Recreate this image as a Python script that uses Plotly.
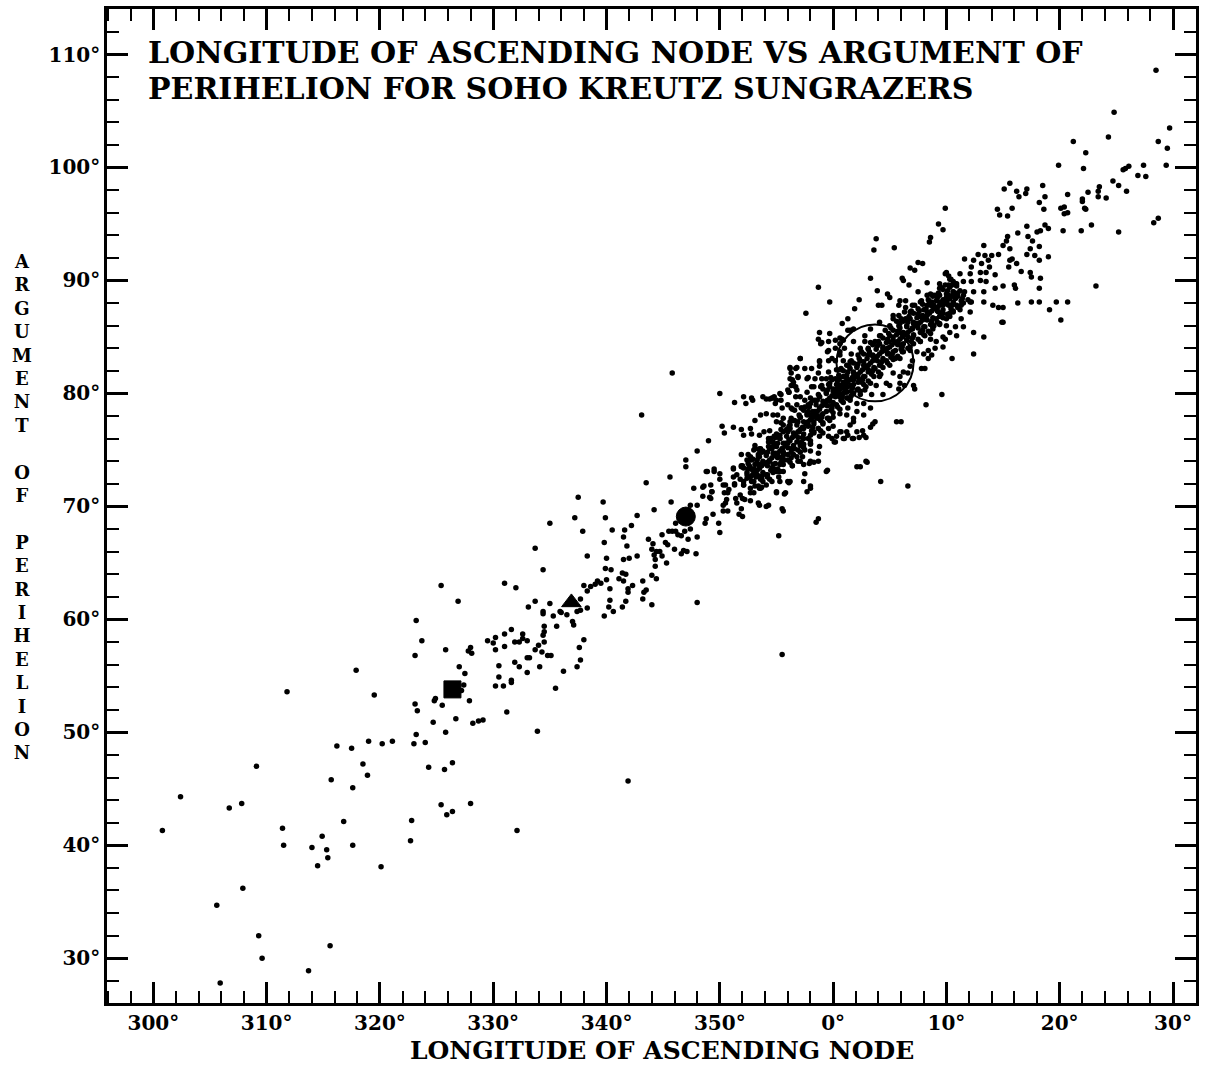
import plotly.graph_objects as go

FONT = "DejaVu Serif"

# (longitude of ascending node [deg], argument of perihelion [deg])
LOWER = [(317.9,55.5),(311.8,53.6),(316.2,48.8),(317.5,48.6),(318.5,47.2),(318.9,46.2),(309.1,47.0),(315.7,45.8),
         (317.6,45.1),(302.4,44.3),(306.7,43.3),(307.8,43.7),(300.8,41.3),(311.4,41.5),(316.8,42.1),(311.5,40.0),
         (314.0,39.8),(314.9,40.8),(315.3,39.6),(315.4,38.9),(314.5,38.2),(317.6,40.0),(307.9,36.2),(305.6,34.7),
         (309.3,32.0),(309.6,30.0),(315.6,31.1),(313.7,28.9),(305.9,27.8),(320.1,38.1),(322.8,42.2),(322.7,40.4),
         (325.4,43.6),(325.9,42.7),(326.4,43.0),(328.0,43.7),(332.1,41.3),(341.9,45.7)]

MID_A = [(337.5,70.8),(337.2,69.0),(337.9,67.8),(335.0,68.5),(338.3,65.6),(333.7,66.3),(334.4,64.4),(331.0,63.2),
         (332.0,62.8),(325.4,63.0),(326.9,61.6),(323.2,59.9),(323.7,58.1),(323.1,56.8),(325.8,57.3),(319.5,53.3),
         (327.0,55.8),(327.5,55.2),(327.8,57.2),(328.0,57.5),(328.1,57.0),(327.4,54.2),(327.2,53.7),(324.9,53.0),
         (324.8,52.8),(325.5,52.4),(327.9,52.8),(323.1,52.5),(323.3,51.9),(324.7,50.9),(326.7,51.2),(328.2,50.8),
         (328.7,51.0),(329.1,51.1),(331.2,51.8),(333.9,50.1),(325.8,50.0),(323.2,49.8),(323.0,49.0),(324.0,49.1),
         (319.0,49.2),(320.2,49.0),(321.1,49.2),(324.3,46.9),(325.7,46.7),(326.4,47.3),
         (329.5,58.1),(330.0,57.9),(330.2,58.4),(331.0,58.7),(331.6,59.1),(331.0,57.6),(330.2,57.3),(331.9,58.0),
         (332.3,58.0),(332.6,58.7),(332.6,58.3),(333.0,58.1),(333.7,57.3),(334.0,57.7),(334.3,57.1),(334.5,58.0),
         (334.4,58.6),(334.5,58.9),(334.5,59.4),(334.8,56.8),(335.1,56.8),(333.0,56.6),(333.2,56.6),(331.9,56.2),
         (332.3,55.8),(333.0,55.3),(334.1,55.8),(330.5,55.9),(330.5,54.9),(330.2,54.1),(330.9,54.1),(331.6,54.4),
         (331.6,54.6),(335.5,53.9),(336.2,55.4),(337.4,55.8),(337.7,56.4),(337.6,57.5),(338.0,58.2),(338.3,61.0),
         (338.0,63.0),(338.3,62.5),(335.0,61.4),(333.7,61.6),(333.1,61.1),(334.4,60.7),(334.4,60.5),(335.3,60.3),
         (335.6,59.4),(335.9,60.7),(337.1,59.5),(337.0,59.8),(337.7,61.8),(337.7,60.8),(336.0,60.6),(336.5,60.4),
         (337.4,60.7)]

MID_B = [(345.8,81.8),(343.1,78.1),(350.0,80.0),(351.3,79.2),(352.1,79.7),(352.3,79.1),(352.8,79.6),(352.9,79.4),
         (353.8,79.7),(354.4,79.5),(354.7,79.6),(355.0,79.4),(355.4,79.9),(355.4,79.4),(350.2,77.1),(350.4,76.5),
         (351.2,77.0),(351.9,76.8),(352.8,76.4),(353.1,77.6),(353.6,78.1),(355.1,78.1),(349.0,75.8),(348.0,74.9),
         (347.0,74.1),(347.0,73.5),(345.6,72.6),(343.5,72.1),(339.7,70.4),(339.9,69.0),(340.5,67.9),(339.8,66.8),
         (341.5,67.3),(341.6,67.9),(342.2,68.3),(342.7,69.2),(341.8,66.5),(340.0,65.4),(341.5,65.3),(342.0,65.4),
         (342.7,65.6),(339.9,64.5),(340.4,64.4),(341.4,64.1),(341.7,64.0),(341.1,63.6),(341.5,63.4),(340.0,63.5),
         (339.2,63.4),(339.5,63.2),(339.0,63.1),(338.6,62.9),(340.3,62.7),(341.9,62.7),(341.9,62.4),(342.3,63.0),
         (343.2,63.4),(343.3,62.4),(343.5,62.6),(343.2,61.8),(344.0,61.3),(340.3,61.7),(340.2,61.1),(341.7,61.6),
         (341.4,61.1),(340.6,60.7),(339.8,60.3),(348.0,61.5),(355.5,56.9),
         (343.7,67.1),(344.1,66.7),(344.0,66.2),(344.2,65.7),(344.4,66.0),(344.7,66.0),(344.3,65.3),(344.3,64.7),
         (344.4,63.6),(344.0,63.9),(344.9,67.5),(345.2,66.8),(345.4,66.6),(344.9,65.6),(345.3,65.0),(346.0,66.2),
         (345.5,67.8),(345.8,67.8),(346.1,67.8),(346.3,67.5),(346.6,67.4),(346.9,67.8),(347.2,67.1),(346.8,66.1),
         (346.6,65.8),(347.1,66.0),(347.9,65.8),(348.0,67.3),(347.4,68.0),(345.7,70.4),(344.2,69.7),(346.1,68.5),
         (347.4,70.1),(348.0,70.1),(348.8,68.9),(348.7,68.5),(349.4,69.3),(349.9,68.5),(350.0,67.7),(347.7,71.6),
         (348.5,71.7),(348.5,70.9),(349.1,70.8),(349.2,71.9),(349.3,71.3),(348.8,73.1),(349.5,73.3),(350.0,72.9),
         (350.3,70.1),(350.5,70.3),(350.3,69.6),(350.7,69.6),(350.5,71.9),(350.4,71.2),(350.7,71.2),(351.3,72.0),
         (351.2,73.3),(351.5,72.8),(351.7,69.3),(351.4,70.7),(352.0,70.7),(352.0,69.1),(351.9,69.8),(352.0,73.6),
         (352.1,72.2),(352.6,72.6),(352.7,71.6),(353.0,71.2),(352.7,70.5),(353.5,70.1),(354.1,70.0),(355.6,69.6),
         (355.7,71.1),(355.0,71.2),(355.2,67.4),(353.3,72.7),(353.7,71.7),(352.8,74.1),(353.0,73.3),(353.5,73.4),
         (353.9,73.8),(354.2,72.8),(354.8,73.3),(355.2,72.6),(355.3,73.1),(356.1,72.1),(356.4,73.6),(353.1,75.1),
         (353.5,75.0),(354.3,75.7),(354.7,75.3),(354.9,74.7),(355.5,75.0),(355.7,74.1),(356.3,74.3),(353.9,76.6),
         (354.5,76.0),(354.9,76.1),(355.3,76.3),(356.1,76.8),(356.2,77.5),(356.4,78.6),(356.5,81.0),(356.2,82.3),
         (356.8,82.3),(357.1,83.1),(356.1,80.1),(356.3,81.8),(356.7,80.6)]

CORE_LOW = [(354.1,79.5),(354.6,79.6),(354.8,79.7),(356.1,80.1),(356.3,80.7),(356.4,81.2),(356.9,81.4),(357.8,81.4),
            (358.7,81.8),(359.0,81.3),(356.7,79.7),(356.8,79.0),(357.2,78.7),(356.3,78.7),(355.4,77.4),(355.6,77.2),
            (354.4,76.7),(354.3,76.0),(354.5,75.7),(354.8,76.2),(355.0,76.4),(355.3,76.0),(354.9,75.5),(354.6,75.1),
            (354.1,74.7),(353.7,74.8),(353.1,75.4),(353.0,75.0),(353.5,75.1),(355.5,75.1),(355.8,75.6),(356.1,75.9),
            (356.6,76.3),(357.0,76.6),(357.4,76.9),(357.8,77.2),(358.3,77.5),(358.6,77.8),(359.0,78.1),(359.4,78.4),
            (359.9,78.7),(0.3,79.0),(0.8,79.3),(1.2,79.6),(1.6,79.8),(2.1,80.3),(2.2,81.0),(1.2,81.3),(0.6,80.7),
            (0.0,80.4),(359.4,80.1),(358.8,79.7),(358.4,79.4),(358.0,79.1),(357.5,78.8),(357.7,78.2),(357.1,77.9),
            (356.6,77.6),(356.2,77.2),(355.9,76.8),(358.0,78.1),(358.4,78.4),(358.8,78.7),(359.3,79.0),(359.7,79.3),
            (0.2,79.7),(0.6,80.0),(1.0,80.4),(1.6,80.7),(1.9,81.5),(1.2,78.1),(0.6,78.2),(0.0,77.9),(359.6,77.8),
            (359.1,77.3),(359.6,76.9),(0.0,77.1),(358.7,76.9),(358.3,76.6),(0.6,76.6),(0.2,75.7),(0.9,76.0),(1.8,76.0),
            (2.1,76.6),(1.5,77.2),(1.8,77.8),(2.1,78.4),(1.3,78.7),(2.1,79.1),(358.0,76.3),(357.4,76.0),(356.8,75.7),
            (358.0,75.6),(358.7,74.7),(358.0,74.0),(358.3,73.9),(357.5,72.9),(359.4,73.1),(358.0,71.8),(357.7,71.3),
            (356.3,75.1),(356.0,74.6),(355.6,74.8),(355.2,74.4),(355.6,74.1),(355.3,73.7),(354.9,73.8),(354.4,74.0),
            (354.0,73.8),(353.5,73.5),(353.1,73.7),(352.7,73.4),(354.6,73.2),(355.0,73.1),(354.1,72.8),(353.7,72.5),
            (353.2,72.6),(352.8,72.2),(352.4,72.5),(352.1,71.9),(351.8,72.4),(351.2,72.6),(351.3,71.9),(353.1,71.8),
            (353.5,71.6),(354.1,71.9),(354.6,72.2),(355.3,72.2),(356.0,72.2),(357.4,73.7),(357.1,74.0),(356.8,74.4),
            (355.6,73.1),(355.0,71.3),(355.8,71.2),(352.7,71.2),(351.8,71.0),(350.8,71.5),(350.3,71.9),(350.6,70.6),
            (351.5,70.3),(352.2,70.6),(353.4,70.3),(354.3,70.1),(355.5,69.8),(349.2,70.7),(349.5,73.1),(348.9,73.1),
            (348.6,71.8),(349.3,71.3),(350.0,72.4),(351.2,73.4),(351.9,73.5),(352.4,74.1),(353.4,74.4),(357.5,75.0),
            (358.8,75.3),(359.6,76.2),(358.8,76.2),(357.1,75.4),(359.9,76.0),(1.2,76.6),(0.3,76.2),(2.1,73.5),
            (358.5,68.6),(358.7,68.9),(2.4,73.5),(3.0,73.9),(357.9,73.8),(357.3,74.4),(356.4,73.6),(356.2,72.2),
            (357.4,75.2),(356.6,75.1),(358.0,75.5),(0.1,75.7),(1.0,76.0),(1.7,76.0),(2.3,76.1),(2.6,76.7),(2.9,76.1),
            (2.7,76.3),(3.3,77.0),(3.5,77.3),(0.7,76.6),(1.3,76.3),(359.1,76.5),(5.6,77.5),(6.0,77.5),(4.2,72.2),
            (6.6,71.8)]

CORE_MID = [(3.8,93.7),(3.6,92.7),(5.4,92.9),(8.6,93.8),(8.5,93.4),(357.1,83.1),(358.8,82.9),(356.2,82.2),
            (356.7,82.2),(357.5,82.2),(359.6,84.6),(0.6,84.9),(1.3,85.6),(358.9,84.4),(359.5,83.7),(356.2,81.3),
            (356.9,81.5),(356.5,80.7),(356.0,80.3),(355.3,80.0),(354.9,79.1),(355.5,78.7),(356.0,79.0),(357.5,79.4),
            (8.2,79.0),(2.9,74.0),(354.1,78.2),(354.7,78.1),(355.0,77.5),(355.6,77.8),(356.6,78.5),(357.1,79.7),
            (357.7,80.1),(358.1,80.6),(356.8,80.3),(358.8,82.4),(358.1,82.2),(359.6,82.9),(0.6,83.4),(359.4,81.3),
            (0.2,81.3),(0.6,82.1),(1.6,83.5),(358.8,85.4),(0.9,84.7),(352.1,76.3),(352.7,76.9),(353.5,76.3),
            (351.9,74.6),(352.5,74.6),(352.4,72.8),(353.0,72.8),(353.5,73.7),(352.1,71.9),(355.6,74.8),(356.9,74.0),
            (358.0,74.9),(358.7,74.0),(359.5,73.2),(357.4,72.2),(358.0,71.6),(1.8,77.5),(2.7,78.1),(3.3,78.7),
            (3.7,77.5),(2.7,79.1),(5.0,80.7),(5.8,80.4),(6.3,80.7),(5.9,81.5),(6.6,81.8),(8.1,82.2),(8.0,83.5),
            (8.7,83.4)]

CORE_HIGH = [(358.7,89.4),(3.3,90.2),(357.6,87.1),(7.5,91.6),(7.9,91.5),(6.8,91.1),(7.2,90.9),(6.1,90.2),(6.2,90.0),
             (4.8,88.8),(5.0,88.5),(3.9,89.1),(2.3,88.3),(1.9,87.5),(4.0,87.8),(4.3,87.8),(1.3,86.6),(4.1,86.3),
             (5.9,88.2),(5.8,87.8),(6.7,89.6),(7.0,87.8),(8.3,89.8),(8.3,88.7),(8.9,88.7),(9.9,90.6),(10.2,90.4),
             (9.4,89.3),(5.8,86.9),(5.3,86.6),(6.3,87.2),(358.7,84.8),(359.7,85.3),(0.2,84.7),(0.8,84.8),(359.0,84.5),
             (359.6,83.8),(357.7,81.3),(358.8,82.8),(0.2,82.9),(0.9,82.9),(1.5,82.8),(1.8,84.6),(1.5,85.6),(2.8,85.1),
             (3.3,85.7),(2.4,84.0),(3.1,84.0),(3.5,83.4),(2.7,82.8),(2.1,82.4),(3.1,81.9),(3.7,82.2),(4.1,82.5),
             (4.7,82.9),(4.8,83.5),(4.4,84.1),(4.9,84.6),(5.3,85.0),(5.9,85.4),(6.5,85.9),(7.1,86.3),(7.7,86.8),
             (8.3,87.2),(8.9,87.6),(9.4,88.1),(10.0,88.5),(10.6,89.0),(10.9,89.7),(10.5,89.6),(10.2,87.8),(9.7,87.1),
             (9.1,86.6),(8.7,86.2),(8.1,85.9),(7.7,85.4),(7.1,85.1),(6.5,84.7),(5.9,84.3),(5.5,83.8),(5.2,83.4),
             (5.5,83.1),(6.1,83.7),(6.8,84.1),(7.7,84.6),(8.6,84.8),(9.1,84.6),(8.4,83.8),(7.4,83.7),(7.8,82.2),
             (10.5,83.1),(9.6,79.9),(7.1,80.7),(7.2,80.4),(5.9,80.9),(4.7,80.9),(4.4,79.9),(3.4,79.9),(3.8,80.7),
             (2.9,80.6),(2.5,81.2),(2.8,81.5),(4.1,81.5),(5.3,81.8),(6.2,81.9),(6.8,82.4),(7.0,82.9),(1.8,81.2),
             (0.9,81.5),(0.3,82.1),(359.6,81.9),(359.0,80.7),(358.3,80.6),(358.4,81.3),(359.7,80.9),(0.3,80.4),
             (1.2,80.1),(0.6,79.7),(1.5,79.6),(2.4,79.9),(2.8,80.3),(359.7,88.1),(0.8,86.2),(0.2,84.0),(359.9,83.1),
             (1.0,84.0),(0.6,83.7),(1.2,82.5),(2.2,83.4),(1.8,81.9),(4.1,85.1),(4.6,85.6),(5.0,86.0),(3.7,84.6),
             (2.8,84.6),(7.0,85.7),(7.4,86.2),(5.9,86.2),(6.4,86.6),(8.0,87.4),(8.7,88.1),(9.3,87.2),(8.1,85.1),
             (8.8,85.7),(9.4,86.2),(10.0,86.6),(10.6,87.2),(10.9,87.8),(10.8,88.4),(10.3,85.4),(9.7,85.0),(10.8,85.9),
             (9.0,84.0),(9.7,84.1),(8.4,83.1),(12.4,83.5),(7.5,89.0),(6.4,88.2),(7.8,88.2),(6.4,87.6),(7.2,87.8),
             (1.8,85.7),(0.6,84.4),(5.6,86.4),(5.3,86.9),(6.8,87.2),(8.6,87.8)]

UPPER = [(28.5,108.6),(24.8,104.9),(29.7,103.5),(24.3,102.7),(28.7,102.3),(29.5,101.7),(29.4,100.2),(21.2,102.3),
         (22.3,101.3),(22.1,99.9),(19.9,100.2),(25.8,99.9),(26.1,100.1),(25.6,99.8),(27.4,100.2),(26.9,99.3),
         (27.6,99.2),(24.7,98.8),(25.2,98.4),(25.9,97.9),(24.1,97.3),(23.5,98.3),(23.4,97.9),(23.4,97.4),(22.5,97.8),
         (22.0,97.2),(22.0,97.0),(22.2,96.4),(22.3,96.3),(20.7,97.6),(20.1,96.4),(20.4,96.5),(20.4,95.9),(20.7,96.0),
         (22.8,94.9),(21.9,94.4),(20.3,94.4),(25.2,94.3),(28.3,95.1),(28.7,95.5),(18.5,98.4),(18.7,97.4),(18.2,96.9),
         (18.6,96.3),(17.1,98.1),(17.0,97.7),(16.2,97.9),(16.4,97.4),(15.6,98.6),(15.1,98.1),(14.5,96.3),(14.7,95.8),
         (15.4,95.7),(15.8,96.4),(9.9,96.4),(9.3,95.0),(9.7,94.5),(17.1,94.8),(16.3,94.2),(17.2,93.9),(18.0,94.3),
         (18.3,94.4),(18.7,94.9),(19.0,94.6),(17.6,93.5),(18.2,93.0),(17.4,92.8),(17.1,92.3),(17.8,92.2),(18.2,91.8),
         (19.0,92.1),(17.4,90.7),(17.5,90.3),(18.3,90.2),(18.2,89.3),(18.2,88.1),(17.5,88.1),(16.3,88.0),(19.7,88.1),
         (20.7,88.1),(19.1,87.4),(20.1,86.5),(23.2,89.5),(15.0,86.3),(14.6,87.6),(15.0,87.6),(15.0,89.5),(16.0,89.6),
         (16.1,89.3),(14.3,89.3),(16.6,90.8),(16.2,91.5),(15.8,91.9),(15.6,92.8),(15.4,93.9),(15.3,93.5),(15.0,93.1),
         (14.6,92.3),(14.0,92.2),(13.3,93.1),(13.4,92.2),(13.7,91.8),(12.8,92.3),(12.4,91.8),(11.6,91.9),(12.2,91.2),
         (13.1,91.5),(13.8,91.2),(15.5,91.2),(15.6,91.8),(14.3,90.5),(13.5,90.7),(13.0,90.7),(12.1,90.6),(11.2,90.6),
         (10.0,90.7),(10.3,90.1),(9.4,89.7),(9.9,89.6),(10.8,89.7),(11.5,89.9),(12.2,89.9),(13.0,90.0),(13.5,89.9),
         (13.3,89.0),(12.4,89.0),(11.6,89.0),(10.9,88.8),(10.2,88.7),(9.1,88.7),(8.9,87.8),(9.7,87.8),(10.6,88.1),
         (11.3,87.8),(12.2,88.1),(13.3,88.1),(14.1,87.8),(12.1,87.2),(11.3,86.6),(10.3,87.1),(9.4,86.8),(8.9,86.0),
         (10.0,86.0),(11.5,85.9),(12.4,85.4),(13.3,85.0),(10.9,85.1),(9.9,84.8),(14.9,86.3)]

BAND = [(352.7,72.6),(352.4,73.0),(353.0,72.2),(352.1,73.4),(353.4,71.8),
        (353.5,73.4),(353.2,73.8),(353.8,73.0),(352.9,74.2),(354.2,72.6),
        (354.4,74.1),(354.1,74.5),(354.7,73.7),(353.8,74.9),(355.1,73.3),
        (355.3,74.9),(355.0,75.3),(355.6,74.5),(354.7,75.7),(356.0,74.1),
        (356.2,75.8),(355.9,76.2),(356.5,75.4),(355.6,76.6),(356.9,75.0),
        (357.1,76.8),(356.8,77.2),(357.4,76.4),(356.5,77.6),(357.8,76.0),
        (358.0,77.7),(357.7,78.1),(358.3,77.3),(357.4,78.5),(358.7,76.9),
        (358.8,78.6),(358.5,79.0),(359.1,78.2),(358.2,79.4),(359.5,77.8),
        (359.7,79.6),(359.4,80.0),(0.0,79.2),(359.1,80.4),(0.4,78.8),
        (0.6,80.4),(0.3,80.8),(0.9,80.0),(359.9,81.2),(1.3,79.6),
        (1.5,81.2),(1.2,81.6),(1.8,80.8),(0.9,82.0),(2.2,80.4),
        (2.4,81.9),(2.1,82.3),(2.7,81.5),(1.8,82.7),(3.1,81.1),
        (3.3,82.7),(3.0,83.1),(3.6,82.3),(2.7,83.5),(4.0,81.9),
        (4.1,83.5),(3.8,83.9),(4.4,83.1),(3.5,84.3),(4.8,82.7),
        (5.0,84.1),(4.7,84.5),(5.3,83.7),(4.4,84.9),(5.7,83.3),
        (5.9,84.8),(5.6,85.2),(6.2,84.4),(5.3,85.6),(6.6,84.0),
        (6.8,85.6),(6.5,86.0),(7.1,85.2),(6.2,86.4),(7.5,84.8),
        (7.7,86.3),(7.4,86.7),(8.0,85.9),(7.1,87.1),(8.4,85.5),
        (8.5,87.1),(8.2,87.5),(8.8,86.7),(7.9,87.9),(9.2,86.3),
        (9.4,87.8),(9.1,88.2),(9.7,87.4),(8.8,88.6),(10.1,87.0),
        (10.3,88.4),(10.0,88.8),(10.6,88.0),(9.7,89.2),(11.0,87.6),
        (11.2,89.1),(10.9,89.5),(11.5,88.7),(10.6,89.9),(11.9,88.3),
        (352.9,73.2),(353.3,72.8),(352.6,73.6),(353.6,72.4),
        (353.8,74.0),(354.2,73.6),(353.5,74.4),(354.5,73.2),
        (354.7,74.7),(355.1,74.3),(354.4,75.1),(355.4,73.9),
        (355.6,75.6),(356.0,75.2),(355.3,76.0),(356.3,74.8),
        (356.5,76.5),(356.9,76.1),(356.2,76.9),(357.2,75.7),
        (357.4,77.5),(357.8,77.1),(357.1,77.9),(358.1,76.7),
        (358.2,78.4),(358.6,78.0),(357.9,78.8),(358.9,77.6),
        (359.1,79.3),(359.5,78.9),(358.8,79.7),(359.8,78.5),
        (0.0,80.2),(0.4,79.8),(359.7,80.6),(0.7,79.4),
        (0.9,81.0),(1.3,80.6),(0.6,81.4),(1.6,80.2),
        (1.8,81.8),(2.2,81.4),(1.5,82.2),(2.5,81.0),
        (2.7,82.5),(3.1,82.1),(2.4,82.9),(3.4,81.7),
        (3.5,83.3),(3.9,82.9),(3.2,83.7),(4.2,82.5),
        (4.4,84.0),(4.8,83.6),(4.1,84.4),(5.1,83.2),
        (5.3,84.7),(5.7,84.3),(5.0,85.1),(6.0,83.9),
        (6.2,85.4),(6.6,85.0),(5.9,85.8),(6.9,84.6),
        (7.1,86.2),(7.5,85.8),(6.8,86.6),(7.8,85.4),
        (7.9,86.9),(8.3,86.5),(7.6,87.3),(8.6,86.1),
        (8.8,87.7),(9.2,87.3),(8.5,88.1),(9.5,86.9),
        (9.7,88.3),(10.1,87.9),(9.4,88.7),(10.4,87.5),
        (10.6,89.0),(11.0,88.6),(10.3,89.4),(11.3,88.2)]

BAND_EDGE = [(351.9,73.6),(353.6,71.6),(352.7,74.4),(354.4,72.4),(353.6,75.1),(355.3,73.1),(354.5,75.9),(356.2,73.9),
             (355.4,76.8),(357.1,74.8),(356.3,77.8),(358.0,75.8),(357.2,78.7),(358.9,76.7),(358.0,79.6),(359.7,77.6),
             (358.9,80.6),(0.6,78.6),(359.8,81.4),(1.5,79.4),(0.7,82.2),(2.4,80.2),(1.6,82.9),(3.3,80.9),
             (2.5,83.7),(4.2,81.7),(3.3,84.5),(5.0,82.5),(4.2,85.1),(5.9,83.1),(5.1,85.8),(6.8,83.8),
             (6.0,86.6),(7.7,84.6),(6.9,87.3),(8.6,85.3),(7.7,88.1),(9.4,86.1),(8.6,88.8),(10.3,86.8),
             (9.5,89.4),(11.2,87.4),(10.4,90.1),(12.1,88.1),
             (353.1,73.0),(352.5,73.8),(353.8,72.2),(354.0,73.8),(353.4,74.6),(354.7,73.0),
             (354.9,74.5),(354.3,75.3),(355.6,73.7),(355.8,75.4),(355.2,76.2),(356.5,74.6),
             (356.7,76.3),(356.1,77.1),(357.4,75.5),(357.6,77.3),(357.0,78.1),(358.3,76.5),
             (358.4,78.2),(357.8,79.0),(359.1,77.4),(359.3,79.1),(358.7,79.9),(0.0,78.3),
             (0.2,80.0),(359.6,80.8),(0.9,79.2),(1.1,80.8),(0.5,81.6),(1.8,80.0),
             (2.0,81.6),(1.4,82.4),(2.7,80.8),(2.9,82.3),(2.3,83.1),(3.6,81.5),
             (3.7,83.1),(3.1,83.9),(4.4,82.3),(4.6,83.8),(4.0,84.6),(5.3,83.0),
             (5.5,84.5),(4.9,85.3),(6.2,83.7),(6.4,85.2),(5.8,86.0),(7.1,84.4),
             (7.3,86.0),(6.7,86.8),(8.0,85.2),(8.1,86.7),(7.5,87.5),(8.8,85.9),
             (9.0,87.5),(8.4,88.3),(9.7,86.7),(9.9,88.1),(9.3,88.9),(10.6,87.3),
             (10.8,88.8),(10.2,89.6),(11.5,88.0)]

BAND_INNER = [(352.9,72.8),(352.5,73.3),(353.3,73.2),(353.7,72.7),(353.7,73.6),(353.3,74.1),(354.2,73.9),(354.6,73.4),
              (354.6,74.3),(354.2,74.8),(355.1,74.7),(355.5,74.2),(355.5,75.1),(355.1,75.6),(356.0,75.6),(356.4,75.1),
              (356.4,76.1),(356.0,76.6),(356.9,76.6),(357.3,76.1),(357.3,77.0),(356.9,77.5),(357.8,77.5),(358.2,77.0),
              (358.2,77.9),(357.8,78.4),(358.6,78.4),(359.0,77.9),(359.0,78.9),(358.6,79.4),(359.5,79.4),(359.9,78.9),
              (359.9,79.8),(359.5,80.3),(0.4,80.2),(0.8,79.7),(0.8,80.6),(0.4,81.1),(1.3,81.0),(1.7,80.5),
              (1.7,81.4),(1.3,81.9),(2.2,81.7),(2.6,81.2),(2.6,82.1),(2.2,82.6),(3.1,82.5),(3.5,82.0),
              (3.5,82.9),(3.1,83.4),(3.9,83.3),(4.3,82.8),(4.3,83.7),(3.9,84.2),(4.8,84.0),(5.2,83.5),
              (5.2,84.3),(4.8,84.8),(5.7,84.6),(6.1,84.1),(6.1,85.0),(5.7,85.5),(6.6,85.4),(7.0,84.9),
              (7.0,85.8),(6.6,86.3),(7.5,86.1),(7.9,85.6),(7.9,86.5),(7.5,87.0),(8.3,86.9),(8.7,86.4),
              (8.7,87.3),(8.3,87.8),(9.2,87.6),(9.6,87.1),(9.6,88.0),(9.2,88.5),(10.1,88.3),(10.5,87.8),
              (10.5,88.6),(10.1,89.1),(11.0,88.9),(11.4,88.4)]

# highlighted comets (square, triangle, filled circle)
SPECIAL_LON = [326.4, 336.9, 347.0]
SPECIAL_ARG = [53.8, 61.5, 69.1]
SPECIAL_SYMBOL = ["square", "triangle-up", "circle"]
SPECIAL_SIZE = [17, 17, 19]

# open ring: centre and radius in degrees
RING_LON, RING_ARG, RING_R = 3.7, 82.7, 3.4

X_TICKS = [300, 310, 320, 330, 340, 350, 0, 10, 20, 30]
Y_TICKS = [30, 40, 50, 60, 70, 80, 90, 100, 110]

TITLE_1 = "LONGITUDE OF ASCENDING NODE VS ARGUMENT OF"
TITLE_2 = "PERIHELION FOR SOHO KREUTZ SUNGRAZERS"
X_TITLE = "LONGITUDE OF ASCENDING NODE"
Y_TITLE = "ARGUMENT OF PERIHELION"


def unwrap(lon):
    return lon - 360 if lon > 180 else lon


groups = [LOWER, MID_A, MID_B, CORE_LOW, CORE_MID, CORE_HIGH, UPPER, BAND, BAND_EDGE, BAND_INNER]
pts = [p for g in groups for p in g]
xs = [unwrap(p[0]) for p in pts]
ys = [p[1] for p in pts]

W, H = 1214, 1066
L, R, T, B = 107, 18, 6, 63
PW, PH = W - L - R, H - T - B


def px(xpix):
    return (xpix - L) / PW


def py(ypix):
    return (H - B - ypix) / PH


fig = go.Figure()
fig.add_trace(go.Scatter(x=xs, y=ys, mode="markers",
                         marker=dict(size=5.5, color="#000000", opacity=1, line=dict(width=0)),
                         hoverinfo="skip", showlegend=False))
fig.add_trace(go.Scatter(x=[unwrap(v) for v in SPECIAL_LON], y=SPECIAL_ARG, mode="markers",
                         opacity=1,
                         marker=dict(symbol=SPECIAL_SYMBOL, size=SPECIAL_SIZE, color="#000000",
                                     opacity=1, line=dict(color="#000000", width=1)),
                         hoverinfo="skip", showlegend=False))
fig.add_shape(type="circle", xref="x", yref="y",
              x0=RING_LON - RING_R, x1=RING_LON + RING_R,
              y0=RING_ARG - RING_R, y1=RING_ARG + RING_R,
              line=dict(color="black", width=2))

tickfont = dict(family=FONT, size=20, color="black", weight="bold")
common = dict(ticks="inside", ticklen=21, tickwidth=2.5, tickcolor="black",
              showline=True, linewidth=2.5, linecolor="black", mirror="allticks",
              showgrid=False, zeroline=False, tickfont=tickfont,
              minor=dict(dtick=2, tick0=0, ticks="inside", ticklen=12, tickwidth=2,
                         tickcolor="black", showgrid=False))

fig.update_xaxes(range=[-64.09, 32.03], tickmode="array",
                 tickvals=[unwrap(v) for v in X_TICKS],
                 ticktext=[f"{v}°" for v in X_TICKS], **common)
fig.update_yaxes(range=[26.04, 114.03], tickmode="array", tickvals=Y_TICKS,
                 ticktext=[f"{v}°" for v in Y_TICKS], **common)

ann_font = dict(family=FONT, color="black")
annotations = [
    dict(text=f"<b>{TITLE_1}</b>", x=px(146), y=py(49.5), xanchor="left", yanchor="middle",
         font=dict(size=30, **ann_font)),
    dict(text=f"<b>{TITLE_2}</b>", x=px(146), y=py(85.5), xanchor="left", yanchor="middle",
         font=dict(size=30, **ann_font)),
    dict(text=f"<b>{X_TITLE}</b>", x=px(662), y=py(1050.5), xanchor="center", yanchor="middle",
         font=dict(size=25, **ann_font)),
    dict(text="<b>" + "<br>".join(c if c != " " else "" for c in Y_TITLE) + "</b>",
         x=px(22), y=py(506), xanchor="center", yanchor="middle", align="center",
         font=dict(size=18, **ann_font)),
]
for a in annotations:
    a.update(xref="paper", yref="paper", showarrow=False)

fig.update_layout(width=W, height=H, margin=dict(l=L, r=R, t=T, b=B, pad=0),
                  paper_bgcolor="white", plot_bgcolor="white",
                  annotations=annotations, showlegend=False)

fig.write_html("out.html")
